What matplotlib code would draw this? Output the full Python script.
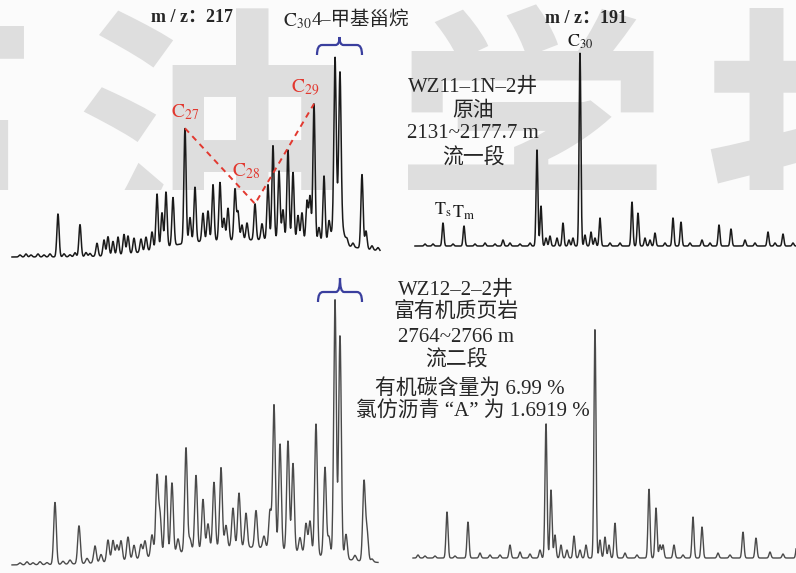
import numpy as np
import matplotlib.pyplot as plt
from matplotlib.path import Path
from matplotlib.patches import PathPatch

plt.rcParams['font.family'] = ['Liberation Serif', 'Noto Sans CJK SC']
plt.rcParams['mathtext.fontset'] = 'stix'

# ---- 质量色谱数据: 保留位置 / 峰高 ----
# WZ11-1N-2井 原油, m/z 217
rt_oil_217 = [20, 26, 31, 38, 44, 50, 58, 64, 70, 75, 80, 86, 90, 97, 104, 108, 113, 118,
              124, 128, 134, 141, 146, 152, 157, 162, 166, 173, 185, 190, 195, 203, 208,
              213, 220, 224, 228, 235, 238, 242, 247, 255, 262, 268, 273, 279, 283, 288,
              293, 298, 302, 307, 310, 314, 319, 324, 329, 335, 340, 347, 353, 362, 366,
              372, 378]
ab_oil_217 = [2, 3, 2, 3, 2, 3, 43, 3, 2, 4, 32, 4, 3, 13, 16, 19, 14, 18,
              20, 18, 15, 13, 14, 18, 55, 35, 55, 48, 115, 25, 55, 28, 30,
              56, 58, 22, 32, 51, 28, 15, 17, 36, 16, 55, 94, 69, 30, 90,
              68, 25, 28, 40, 45, 138, 15, 67, 20, 157, 138, 5, 4, 74, 18,
              4, 3]
hump_oil_217 = [(280, 70, 17), (190, 35, 7), (338, 4, 40)]

# WZ11-1N-2井 原油, m/z 191
rt_oil_191 = [425, 433, 443, 453, 464, 475, 485, 495, 503, 510, 520, 530, 537, 541, 546,
              550, 557, 563, 569, 573, 580, 585, 591, 595, 600, 610, 620, 632, 638, 645,
              650, 655, 665, 673, 681, 690, 702, 710, 719, 731, 745, 755, 768, 775, 783, 793]
ab_oil_191 = [2, 2, 23, 2, 20, 2, 3, 2, 6, 3, 2, 3, 96, 40, 8,
              10, 8, 23, 6, 8, 193, 11, 14, 8, 28, 3, 3, 44, 33, 8,
              6, 13, 3, 28, 24, 3, 6, 3, 21, 17, 6, 3, 14, 3, 12, 3]

# WZ12-2-2井 富有机质页岩, m/z 217
rt_sh_217 = [20, 27, 33, 40, 47, 55, 63, 70, 79, 87, 95, 101, 108, 113, 117, 121, 128, 134,
             141, 145, 152, 157, 160, 166, 172, 178, 186, 190, 196, 203, 208, 214, 221,
             226, 233, 239, 246, 256, 264, 270, 274, 280, 288, 293, 300, 306, 310, 316,
             325, 329, 335, 340, 346, 355, 364, 367, 372]
ab_sh_217 = [2, 3, 2, 3, 2, 62, 3, 4, 38, 5, 17, 8, 22, 21, 16, 20, 23, 14,
             14, 17, 22, 79, 40, 79, 71, 14, 104, 12, 75, 50, 25, 66, 80,
             22, 39, 54, 34, 37, 12, 38, 144, 106, 110, 88, 15, 30, 33, 131,
             89, 20, 258, 223, 25, 5, 79, 30, 3]
hump_sh_217 = [(240, 70, 18)]

# WZ12-2-2井 富有机质页岩, m/z 191
rt_sh_191 = [418, 425, 435, 447, 455, 468, 480, 490, 500, 510, 520, 530, 540, 546, 551,
             555, 561, 567, 574, 580, 586, 595, 600, 605, 609, 615, 625, 637, 649, 656,
             660, 663, 674, 683, 693, 702, 718, 730, 743, 756, 770, 783, 797]
ab_sh_191 = [3, 2, 2, 46, 2, 36, 5, 3, 3, 13, 6, 4, 8, 135, 68,
             23, 13, 8, 22, 8, 13, 229, 18, 21, 13, 35, 5, 3, 69, 50,
             13, 13, 13, 3, 41, 31, 5, 3, 26, 20, 6, 4, 15]


def chromatogram(x, rts, heights, sigma, humps=()):
    y = np.zeros_like(x)
    for r, h in zip(rts, heights):
        y += h * np.exp(-0.5 * ((x - r) / sigma) ** 2)
    for c, s, h in humps:
        y += h * np.exp(-0.5 * ((x - c) / s) ** 2)
    return y


W, H = 796, 573
fig = plt.figure(figsize=(W / 100, H / 100), dpi=100)
fig.patch.set_facecolor('#fbfbfb')

# 水印
wm = fig.add_axes([0, 1 - 190 / H, 1, 190 / H])
wm.set_xlim(0, W)
wm.set_ylim(190, 0)
wm.axis('off')
for ch, cx in zip('石油学报', [-100, 212, 532, 842]):
    wm.text(cx, 162, ch, fontsize=200, family='Noto Sans CJK SC', weight='heavy',
            color='#dedede', ha='center', va='center', clip_on=True)


def panel(base_y):
    # 每个面板与整幅图同框, 纵坐标 0 对应基线位置
    ax = fig.add_axes([0, 0, 1, 1])
    ax.set_xlim(0, W)
    ax.set_ylim(-(H - base_y), base_y)
    ax.axis('off')
    ax.patch.set_alpha(0)
    return ax


def brace(ax, x0, x1, y_end, y_bar, y_tip, color='#3a3f9e'):
    xc = (x0 + x1) / 2
    verts = [(x0, y_end), (x0, y_bar), (x0 + 5, y_bar), (xc - 4, y_bar),
             (xc, y_bar), (xc, y_tip),
             (xc, y_bar), (xc + 4, y_bar), (x1 - 5, y_bar), (x1, y_bar), (x1, y_end)]
    codes = [Path.MOVETO, Path.CURVE3, Path.CURVE3, Path.LINETO,
             Path.CURVE3, Path.CURVE3,
             Path.CURVE3, Path.CURVE3, Path.LINETO, Path.CURVE3, Path.CURVE3]
    ax.add_patch(PathPatch(Path(verts, codes), fill=False, ec=color, lw=1.6))


text_kw = dict(color='#262626', ha='center', va='center', fontsize=15)
red = '#e2382f'

# 左上: 原油 m/z 217
ax1 = panel(257)
x1 = np.linspace(12, 380, 1500)
y1 = chromatogram(x1, rt_oil_217, ab_oil_217, 1.1, hump_oil_217)
ax1.plot(x1, y1, color='#1a1a1a', lw=1.1)
steranes = [185, 255, 314]
apex = [chromatogram(np.array([r], float), rt_oil_217, ab_oil_217, 1.1, hump_oil_217)[0]
        for r in steranes]
ax1.plot(steranes, apex, ls=(0, (3, 2.5)), color=red, lw=1.4)
for r, a, lab, off in zip(steranes, apex, ['27', '28', '29'], [(0, 16), (-9, 33), (-9, 16)]):
    ax1.annotate(r'$\mathrm{C}_{%s}$' % lab, (r, a), xytext=off, textcoords='offset pixels',
                 ha='center', va='center', color=red, fontsize=14)
brace(ax1, 317, 362, 202, 212, 220)

# 右上: 原油 m/z 191
ax2 = panel(246)
x2 = np.linspace(415, 796, 1500)
y2 = chromatogram(x2, rt_oil_191, ab_oil_191, 0.9)
ax2.plot(x2, y2, color='#1a1a1a', lw=1.1)
for r, lab, off in [(580, r'$\mathrm{C}_{30}$', 11), (443, r'$\mathrm{T}_{\mathrm{s}}$', 13),
                    (464, r'$\mathrm{T}_{\mathrm{m}}$', 13)]:
    a = chromatogram(np.array([r], float), rt_oil_191, ab_oil_191, 0.9)[0]
    ax2.annotate(lab, (r, a), xytext=(0, off), textcoords='offset pixels',
                 ha='center', va='center', color='#1a1a1a', fontsize=13)

# 左下: 页岩 m/z 217
ax3 = panel(565)
x3 = np.linspace(12, 378, 1500)
y3 = chromatogram(x3, rt_sh_217, ab_sh_217, 1.3, hump_sh_217)
ax3.plot(x3, y3, color='#4a4a4a', lw=1.0)
brace(ax3, 318, 362, 263, 273, 287)

# 右下: 页岩 m/z 191
ax4 = panel(558)
x4 = np.linspace(413, 796, 1500)
y4 = chromatogram(x4, rt_sh_191, ab_sh_191, 1.0)
ax4.plot(x4, y4, color='#4a4a4a', lw=1.0)

# 文字说明
tx = fig.add_axes([0, 0, 1, 1])
tx.set_xlim(0, W)
tx.set_ylim(H, 0)
tx.axis('off')
tx.patch.set_alpha(0)
tx.text(192, 17, 'm / z：217', fontsize=13, weight='bold', color='#262626', ha='center', va='center')
tx.text(586, 18, 'm / z：191', fontsize=13, weight='bold', color='#262626', ha='center', va='center')
tx.text(312, 21, r'$\mathrm{C}_{30}$', fontsize=14, color='#262626', ha='right', va='center')
tx.text(312, 20, '4–甲基甾烷', fontsize=14, color='#262626', ha='left', va='center')

oil_lines = ['WZ11–1N–2井', '原油', '2131~2177.7 m', '流一段']
for s, yy in zip(oil_lines, [87, 111, 134, 158]):
    tx.text(473, yy, s, **text_kw)

shale_lines = ['WZ12–2–2井', '富有机质页岩', '2764~2766 m', '流二段',
               '有机碳含量为 6.99 %', '氯仿沥青 “A” 为 1.6919 %']
for s, xx, yy in zip(shale_lines, [456, 456, 456, 456, 470, 473], [290, 312, 337, 360, 389, 412]):
    tx.text(xx, yy, s, **text_kw)

fig.savefig('out.png', dpi=100, facecolor=fig.get_facecolor())
